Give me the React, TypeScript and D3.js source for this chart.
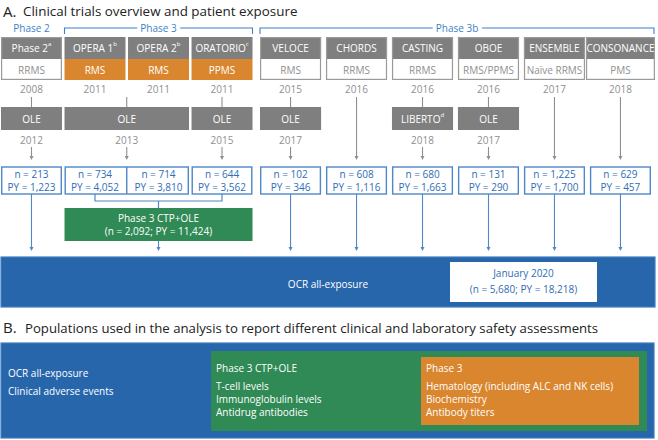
import React from "react";
import * as d3 from "d3";

// ---------- data ----------
const trials = ["Phase 2", "OPERA 1", "OPERA 2", "ORATORIO", "VELOCE", "CHORDS", "CASTING", "OBOE", "ENSEMBLE", "CONSONANCE"];
const trialNotes = ["a", "b", "b", "c", "", "", "", "", "", ""];
const trialPhases = ["Phase 2", "Phase 3", "Phase 3", "Phase 3", "Phase 3b", "Phase 3b", "Phase 3b", "Phase 3b", "Phase 3b", "Phase 3b"];
const populations = ["RRMS", "RMS", "RMS", "PPMS", "RMS", "RRMS", "RRMS", "RMS/PPMS", "Naïve RRMS", "PMS"];
const startYears = [2008, 2011, 2011, 2011, 2015, 2016, 2016, 2016, 2017, 2018];
// extension studies: label, footnote, year, trials covered
const extLabels = ["OLE", "OLE", "OLE", "OLE", "LIBERTO", "OLE"];
const extNotes = ["", "", "", "", "d", ""];
const extYears = [2012, 2013, 2015, 2017, 2018, 2017];
const extTrials = [["Phase 2"], ["OPERA 1", "OPERA 2"], ["ORATORIO"], ["VELOCE"], ["CASTING"], ["OBOE"]];
const patients = [213, 734, 714, 644, 102, 608, 680, 131, 1225, 629];
const personYears = [1223, 4052, 3810, 3562, 346, 1116, 1663, 290, 1700, 457];
const pooledTrials = ["OPERA 1", "OPERA 2", "ORATORIO"];
const pooledLabel = "Phase 3 CTP+OLE";
const pooledN = 2092;
const pooledPY = 11424;
const totalLabel = "OCR all-exposure";
const cutoff = "January 2020";
const totalN = 5680;
const totalPY = 18218;
const phaseNames = ["Phase 2", "Phase 3", "Phase 3b"];
const titleA = "Clinical trials overview and patient exposure";
const titleB = "Populations used in the analysis to report different clinical and laboratory safety assessments";
const popAllLines = ["OCR all-exposure", "Clinical adverse events"];
const popCtpTitle = "Phase 3 CTP+OLE";
const popCtpLines = ["T-cell levels", "Immunoglobulin levels", "Antidrug antibodies"];
const popP3Title = "Phase 3";
const popP3Lines = ["Hematology (including ALC and NK cells)", "Biochemistry", "Antibody titers"];

// ---------- style ----------
const FONT = "'Open Sans', sans-serif";
const GRAY = "#7f7f7f";
const LGRAY = "#8f8f8f";
const ORANGE = "#d9862e";
const GREEN = "#2f8a55";
const BLUE = "#2866ab";
const LBLUE = "#4f87c9";
const TBLUE = "#2f6db5";
const PHASE = "#3d7fc9";
const FS = 10;

const fmt = d3.format(",");

function Arrow({ x, y1, y2, color }: { x: number; y1: number; y2: number; color: string }) {
  return (
    <g>
      <line x1={x} x2={x} y1={y1} y2={y2 - 3} stroke={color} strokeWidth={1.1} />
      <path d={`M${x - 2},${y2 - 4}L${x + 2},${y2 - 4}L${x},${y2}Z`} fill={color} />
    </g>
  );
}

export default function App() {
  const W = 658, H = 440;
  // two band scales: early trials (phase 2 + 3) and phase 3b trials
  const earlyTrials = trials.filter((_, i) => trialPhases[i] !== "Phase 3b");
  const lateTrials = trials.filter((_, i) => trialPhases[i] === "Phase 3b");
  const xA = d3.scaleBand<string>().domain(earlyTrials).range([1, 252.5]).paddingInner(0.04).paddingOuter(0);
  const xB = d3.scaleBand<string>().domain(lateTrials).range([260, 651]).paddingInner(0.074).paddingOuter(0);
  const xs = (t: string) => (earlyTrials.includes(t) ? xA : xB);
  const xl = (t: string) => xs(t)(t) as number;
  const bwOf = (t: string) => xs(t).bandwidth();
  const xr = (t: string) => xl(t) + bwOf(t);
  const cx = (t: string) => xl(t) + bwOf(t) / 2;
  const spanL = (ts: string[]) => xl(ts[0]);
  const spanR = (ts: string[]) => xr(ts[ts.length - 1]);
  const spanC = (ts: string[]) => (spanL(ts) + spanR(ts)) / 2;
  const headW = (t: string) => Math.max(bwOf(t), t.length * 6.9);

  const yPhase = 28, yHead = 37, yHeadMid = 59, yHeadB = 80, yYear = 89;
  const yOle = 107, yOleB = 130, yOleYear = 140, yArrowT = 147, yArrowB = 160;
  const yNum = 167, yNumB = 194, yBr = 201, yGreen = 208, yGreenB = 241, yBlueArrow = 251;
  const yBlue = 257, yBlueB = 307;
  const listY0 = 385.5, listDy = 13.4;

  const extOf = (t: string) => extTrials.findIndex((g) => g.includes(t));
  // number box groups (trials sharing an extension are merged)
  const numGroups: string[][] = [];
  trials.forEach((t) => {
    const e = extOf(t);
    const last = numGroups[numGroups.length - 1];
    if (e >= 0 && last && extOf(last[0]) === e) last.push(t);
    else numGroups.push([t]);
  });

  const phaseGroups = phaseNames.map((p) => trials.filter((_, i) => trialPhases[i] === p));
  const pooledC = spanC(pooledTrials);
  const lastTrial = trials[trials.length - 1];

  return (
    <svg width={W} height={H} style={{ position: "absolute", left: 0, top: 0 }} fontFamily={FONT}>
      <rect width={W} height={H} fill="#fff" />
      {/* Title A */}
      <text x={3} y={16.5} fontSize={15} fill="#222">A.</text>
      <text x={23} y={16} fontSize={13.4} fill="#222">{titleA}</text>

      {/* Phase labels / brackets */}
      {phaseGroups.map((g, i) => {
        const l = spanL(g), r = g.includes(lastTrial) ? 654 : spanR(g), c = (l + r) / 2;
        if (g.length === 1)
          return (
            <text key={i} x={c} y={yPhase} textAnchor="middle" dominantBaseline="central" fontSize={FS} fill={PHASE}>
              {phaseNames[i]}
            </text>
          );
        return (
          <g key={i}>
            <path d={`M${l},${yPhase + 6}V${yPhase}H${r}V${yPhase + 6}`} fill="none" stroke={PHASE} strokeWidth={1.1} />
            <text x={c} y={yPhase} textAnchor="middle" dominantBaseline="central" fontSize={FS} fill={PHASE}
              stroke="#fff" strokeWidth={8} paintOrder="stroke">
              {phaseNames[i]}
            </text>
          </g>
        );
      })}

      {/* Trial header boxes */}
      {trials.map((t, i) => {
        const hw = headW(t);
        const x0 = Math.min(cx(t) - hw / 2, 656.5 - hw);
        const hc = x0 + hw / 2;
        const orange = pooledTrials.includes(t);
        return (
          <g key={t}>
            <rect x={x0} y={yHead} width={hw} height={yHeadMid - yHead} fill={GRAY} />
            <rect x={x0} y={yHeadMid} width={hw} height={yHeadB - yHeadMid} fill={orange ? ORANGE : "#fff"} />
            {!orange && <rect x={x0 + 0.6} y={yHead + 0.6} width={hw - 1.2} height={yHeadB - yHead - 1.2} fill="none" stroke="#9a9a9a" strokeWidth={1.2} />}
            <text x={hc} y={(yHead + yHeadMid) / 2} textAnchor="middle" dominantBaseline="central" fontSize={FS} fill="#fff">
              {t}
              {trialNotes[i] && <tspan fontSize={6} dy={-4}>{trialNotes[i]}</tspan>}
            </text>
            <text x={hc} y={(yHeadMid + yHeadB) / 2} textAnchor="middle" dominantBaseline="central" fontSize={FS}
              fill={orange ? "#fff" : LGRAY}>
              {populations[i]}
            </text>
            <text x={cx(t)} y={yYear} textAnchor="middle" dominantBaseline="central" fontSize={FS} fill={LGRAY}>
              {startYears[i]}
            </text>
          </g>
        );
      })}

      {/* Extension boxes */}
      {extTrials.map((g, i) => {
        const l = spanL(g), r = spanR(g), c = (l + r) / 2;
        return (
          <g key={i}>
            <line x1={c} x2={c} y1={yYear + 8} y2={yOle} stroke={LGRAY} strokeWidth={1.1} />
            <rect x={l} y={yOle} width={r - l} height={yOleB - yOle} fill={GRAY} />
            <text x={c} y={(yOle + yOleB) / 2} textAnchor="middle" dominantBaseline="central" fontSize={FS} fill="#fff">
              {extLabels[i]}
              {extNotes[i] && <tspan fontSize={6} dy={-4}>{extNotes[i]}</tspan>}
            </text>
            <text x={c} y={yOleYear} textAnchor="middle" dominantBaseline="central" fontSize={FS} fill={LGRAY}>
              {extYears[i]}
            </text>
            <Arrow x={c} y1={yArrowT} y2={yArrowB} color={LGRAY} />
          </g>
        );
      })}
      {/* Trials without extension: straight arrow */}
      {trials.filter((t) => extOf(t) < 0).map((t) => (
        <Arrow key={t} x={cx(t)} y1={yYear + 8} y2={yArrowB} color={LGRAY} />
      ))}

      {/* Number boxes */}
      {numGroups.map((g, gi) => {
        const l = spanL(g), r = spanR(g);
        return (
          <g key={gi}>
            <rect x={l + 0.7} y={yNum} width={r - l - 1.4} height={yNumB - yNum} fill="#fff" stroke={LBLUE} strokeWidth={1.4} />
            {g.slice(1).map((t, k) => {
              const dx = (xr(g[k]) + xl(t)) / 2;
              return <line key={t} x1={dx} x2={dx} y1={yNum} y2={yNumB} stroke={LBLUE} strokeWidth={1.4} />;
            })}
            {g.map((t) => {
              const i = trials.indexOf(t);
              return (
                <g key={t}>
                  <text x={cx(t)} y={yNum + 7} textAnchor="middle" dominantBaseline="central" fontSize={FS} fill={TBLUE}>
                    n = {fmt(patients[i])}
                  </text>
                  <text x={cx(t)} y={yNum + 20} textAnchor="middle" dominantBaseline="central" fontSize={FS} fill={TBLUE}>
                    PY = {fmt(personYears[i])}
                  </text>
                </g>
              );
            })}
          </g>
        );
      })}

      {/* Phase 3 pooled bracket and box */}
      <path
        d={`M${cx(pooledTrials[0])},${yNumB}V${yBr}H${cx(pooledTrials[pooledTrials.length - 1])}V${yNumB}M${pooledC},${yBr}V${yGreen}`}
        fill="none" stroke={LBLUE} strokeWidth={1.2} />
      <rect x={spanL(pooledTrials)} y={yGreen} width={spanR(pooledTrials) - spanL(pooledTrials)} height={yGreenB - yGreen} fill={GREEN} />
      <text x={pooledC} y={yGreen + 10} textAnchor="middle" dominantBaseline="central" fontSize={FS} fill="#fff">{pooledLabel}</text>
      <text x={pooledC} y={yGreen + 22.5} textAnchor="middle" dominantBaseline="central" fontSize={FS} fill="#fff">
        (n = {fmt(pooledN)}; PY = {fmt(pooledPY)})
      </text>
      <Arrow x={pooledC} y1={yGreenB} y2={yBlueArrow} color={LBLUE} />
      {trials.filter((t) => !pooledTrials.includes(t)).map((t) => (
        <Arrow key={t} x={cx(t)} y1={yNumB} y2={yBlueArrow} color={LBLUE} />
      ))}

      {/* OCR all-exposure box */}
      <rect x={1} y={yBlue} width={654} height={yBlueB - yBlue} fill={BLUE} stroke="#3f7cc2" strokeWidth={1.2} />
      <text x={328} y={284} textAnchor="middle" dominantBaseline="central" fontSize={FS} fill="#fff">{totalLabel}</text>
      <rect x={450} y={262} width={147} height={40} fill="#fff" />
      <text x={523.5} y={273} textAnchor="middle" dominantBaseline="central" fontSize={FS} fill={TBLUE}>{cutoff}</text>
      <text x={523.5} y={289} textAnchor="middle" dominantBaseline="central" fontSize={FS} fill={TBLUE}>
        (n = {fmt(totalN)}; PY = {fmt(totalPY)})
      </text>

      {/* Section B */}
      <text x={3} y={333} fontSize={15} fill="#222">B.</text>
      <text x={25} y={333} fontSize={13.2} fill="#222">{titleB}</text>
      <rect x={1} y={343} width={653} height={95} fill={BLUE} stroke="#3f7cc2" strokeWidth={1.2} />
      {popAllLines.map((s, i) => (
        <text key={s} x={8} y={373 + i * 18} dominantBaseline="central" fontSize={FS} fill="#fff">{s}</text>
      ))}
      <rect x={211} y={351} width={436} height={80} fill={GREEN} />
      <text x={216} y={368} dominantBaseline="central" fontSize={FS} fill="#fff">{popCtpTitle}</text>
      {popCtpLines.map((s, i) => (
        <text key={s} x={216} y={listY0 + i * listDy} dominantBaseline="central" fontSize={FS} fill="#fff">{s}</text>
      ))}
      <rect x={421} y={357} width={218} height={68} fill={ORANGE} />
      <text x={426} y={368} dominantBaseline="central" fontSize={FS} fill="#fff">{popP3Title}</text>
      {popP3Lines.map((s, i) => (
        <text key={s} x={426} y={listY0 + i * listDy} dominantBaseline="central" fontSize={FS} fill="#fff">{s}</text>
      ))}
    </svg>
  );
}
